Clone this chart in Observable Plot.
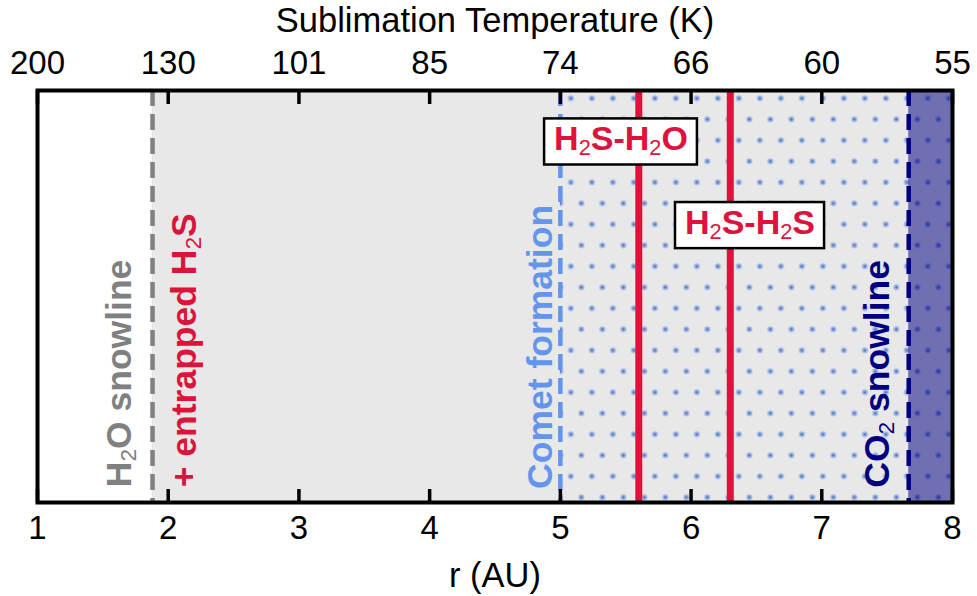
<!DOCTYPE html>
<html><head><meta charset="utf-8">
<script src="https://cdn.jsdelivr.net/npm/d3@7"></script>
<script src="https://cdn.jsdelivr.net/npm/@observablehq/plot@0.6"></script>
<style>html,body{margin:0;padding:0;background:#fff;} #chart svg{display:block;}</style>
</head><body><div id="chart"></div>
<script>
// ---- data ----
const rTicks = [1, 2, 3, 4, 5, 6, 7, 8];
const tempLabels = ["200", "130", "101", "85", "74", "66", "60", "55"];
const xTitle = "r (AU)";
const topTitle = "Sublimation Temperature (K)";

const iceZone = [1.88, 8];        // beyond H2O snowline
const cometZone = [5.0, 8];       // comet formation zone (dotted)
const co2Zone = [7.665, 8];       // beyond CO2 snowline

const snowlineR = [1.88, 5.0, 7.665];
const snowlineColors = ["#808080", "#6495ED", "#000080"];

const labelNames = ["H₂O snowline", "+ entrapped H₂S", "Comet formation", "CO₂ snowline"];
const labelR = [1.631, 2.129, 4.848, 7.427];
const labelY = [0.037, 0.037, 0.033, 0.036];
const labelColors = ["#808080", "#DC143C", "#6495ED", "#000080"];

const bindingNames = ["H₂S-H₂O", "H₂S-H₂S"];
const bindingR = [5.60, 6.30];
const boxR = [5.464, 6.451];
const boxY = [0.881, 0.678];

// ---- chart ----
const font = "'Liberation Sans', Arial, Helvetica, sans-serif";
const boxes = bindingNames.map((n, i) => ({n, x: boxR[i], y: boxY[i]}));

const marks = [
  Plot.rect([iceZone], {x1: d => d[0], x2: d => d[1], fill: "#e8e8e8"}),
  Plot.rect([cometZone], {x1: d => d[0], x2: d => d[1], fill: "url(#dots)"}),
  Plot.rect([co2Zone], {x1: d => d[0], x2: d => d[1], fill: "#000080", fillOpacity: 0.52}),
  ...snowlineR.map((r, i) => Plot.ruleX([r], {x: d => d, stroke: snowlineColors[i], strokeWidth: 4.5, strokeDasharray: "16,8"})),
  Plot.ruleX(bindingR, {x: d => d, stroke: "#DC143C", strokeWidth: 7}),
  ...labelNames.map((t, i) => Plot.text([t], {
    x: () => labelR[i], y: () => labelY[i], text: d => d, rotate: -90,
    textAnchor: "start", lineAnchor: "middle", fill: labelColors[i],
    fontSize: 35.5, fontWeight: "bold"
  })),
  Plot.text(boxes, {x: "x", y: "y", text: "n", fill: "#DC143C", fontSize: 34, fontWeight: "bold",
    lineAnchor: "middle"}),
  Plot.frame({stroke: "black", strokeWidth: 4}),
  Plot.axisX({anchor: "bottom", ticks: rTicks, tickSize: -13, tickPadding: 26, strokeWidth: 3.5,
    fontSize: 33, label: null, tickFormat: d => String(d)}),
  Plot.axisX({anchor: "top", ticks: rTicks, tickSize: -13, tickPadding: 30, strokeWidth: 3.5,
    fontSize: 33, label: null, tickFormat: d => tempLabels[rTicks.indexOf(d)]}),
  Plot.text([xTitle], {frameAnchor: "bottom", dy: 84, lineAnchor: "bottom", text: d => d, fontSize: 34.5}),
  Plot.text([topTitle], {frameAnchor: "top", dy: -59, lineAnchor: "bottom", text: d => d, fontSize: 34.5})
];

const svg = Plot.plot({
  width: 977, height: 596,
  marginLeft: 37, marginRight: 25, marginTop: 90, marginBottom: 94,
  x: {domain: [1, 8]},
  y: {domain: [0, 1], axis: null},
  style: {fontFamily: font, fontSize: "33px", color: "black", background: "white"},
  marks
});
document.getElementById("chart").appendChild(svg);

// dot texture pattern
const ns = "http://www.w3.org/2000/svg";
const xs = svg.scale("x");
const px = xs.apply(cometZone[0]) + 0.5;
const defs = document.createElementNS(ns, "defs");
defs.innerHTML = `<pattern id="dots" patternUnits="userSpaceOnUse" x="${px}" y="87.8" width="21" height="42">
  <rect width="21" height="42" fill="#e8e8e8"/>
  <circle cx="10.5" cy="10.5" r="3" fill="#9db6e8"/><circle cx="10.5" cy="10.5" r="1.2" fill="#5470a8"/>
  <circle cx="0" cy="31.5" r="3" fill="#9db6e8"/><circle cx="0" cy="31.5" r="1.2" fill="#5470a8"/>
  <circle cx="21" cy="31.5" r="3" fill="#9db6e8"/><circle cx="21" cy="31.5" r="1.2" fill="#5470a8"/>
</pattern>`;
svg.insertBefore(defs, svg.firstChild);

// find binding label texts before rewriting
const boxTexts = [...svg.querySelectorAll("text")].filter(t => bindingNames.includes(t.textContent));

// subscripts
svg.querySelectorAll("text").forEach(t => {
  const s = t.textContent;
  if (!s.includes("₂")) return;
  const fs = parseFloat(getComputedStyle(t).fontSize) || 34;
  t.textContent = "";
  s.split(/(₂)/).forEach(part => {
    if (!part) return;
    const sp = document.createElementNS(ns, "tspan");
    if (part === "₂") {
      sp.textContent = "2";
      sp.setAttribute("font-size", (fs * 0.64).toFixed(1));
      sp.setAttribute("font-weight", "normal");
      sp.setAttribute("baseline-shift", (-fs * 0.15).toFixed(1));
    } else sp.textContent = part;
    t.appendChild(sp);
  });
});

// boxes behind binding labels
boxTexts.forEach(t => {
  const bb = t.getBBox();
  const r = document.createElementNS(ns, "rect");
  r.setAttribute("x", bb.x - 10);
  r.setAttribute("y", bb.y - 1);
  r.setAttribute("width", bb.width + 19);
  r.setAttribute("height", bb.height + 5);
  r.setAttribute("fill", "white");
  r.setAttribute("stroke", "black");
  r.setAttribute("stroke-width", 2.5);
  if (t.getAttribute("transform")) r.setAttribute("transform", t.getAttribute("transform"));
  t.parentNode.insertBefore(r, t);
});
</script></body></html>
